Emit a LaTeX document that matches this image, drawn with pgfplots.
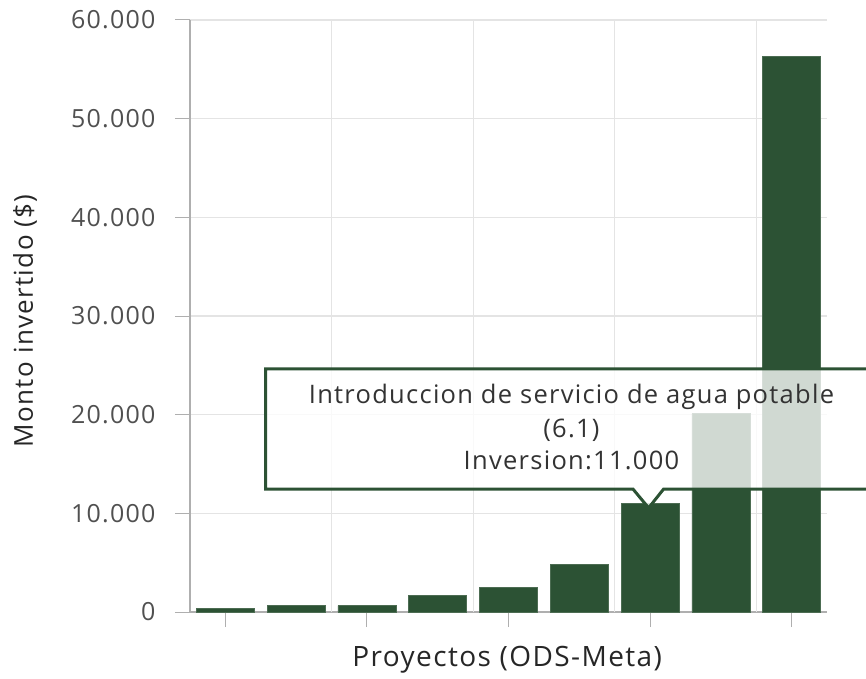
\documentclass[border=0pt]{standalone}
\usepackage{pgfplots}
\pgfplotsset{compat=1.18}
\usepackage{fontspec}
\setmainfont{Open Sans}[LetterSpace=5]

\definecolor{barg}{RGB}{44,82,52}
\definecolor{gridc}{RGB}{228,228,228}
\definecolor{axisc}{RGB}{175,175,175}
\definecolor{tickc}{RGB}{80,80,80}

\begin{document}
\begin{tikzpicture}
\useasboundingbox (-190pt,-66pt) rectangle (676pt,612pt);
\begin{axis}[
    at={(0,0)}, anchor=south west,
    scale only axis,
    width=637pt, height=592pt,
    xmin=-0.5, xmax=8.5,
    ymin=0, ymax=60000,
    axis lines*=left,
    axis line style={-, draw=axisc, line width=1.2pt},
    tick align=outside,
    major tick length=15pt,
    tick style={draw=axisc, line width=1pt},
    xtick={0,2,4,6,8},
    xticklabels={},
    extra x ticks={1.5,3.5,5.5,7.5},
    extra x tick labels={},
    extra x tick style={grid=major, major tick length=0pt},
    ytick={0,10000,...,60000},
    ymajorgrids,
    major grid style={draw=gridc, line width=1.2pt},
    scaled y ticks=false,
    /pgf/number format/.cd, 1000 sep={.}, assume math mode=true,
    /pgfplots/.cd,
    yticklabel style={font=\fontsize{25}{30}\selectfont, text=tickc, xshift=-16pt},
    ylabel={Monto invertido (\$)},
    ylabel style={at={(axis description cs:-0.259,0.492)}, anchor=center,
                  rotate=0, font=\fontsize{26}{30}\selectfont, text=black!85},
    xlabel={Proyectos (ODS-Meta)},
    xlabel style={at={(axis description cs:0.498,-0.081)}, anchor=center,
                  font=\fontsize{28}{32}\selectfont, text=black!85},
    clip=false,
  ]
  \addplot[ybar, bar width=58pt, fill=barg, draw=barg!85!white, line width=0.6pt]
    coordinates {
      (0,400) (1,680) (2,650) (3,1690) (4,2460)
      (5,4800) (6,11000) (7,20100) (8,56300)
    };

  % tooltip
  \draw[draw=barg, line width=3pt, fill=white, fill opacity=0.78, line join=miter]
    (axis cs:0.567,24650) -- (axis cs:9.6,24650) -- (axis cs:9.6,12450)
    -- (axis cs:6.19,12450) -- (axis cs:5.98,10550) -- (axis cs:5.76,12450)
    -- (axis cs:0.567,12450) -- cycle;
  \node[text=black!80, font=\fontsize{25.5}{28}\selectfont] at (axis cs:4.89,21790)
    {Introduccion de servicio de agua potable};
  \node[text=black!80, font=\fontsize{25.5}{28}\selectfont] at (axis cs:4.89,18450) {(6.1)};
  \node[text=black!80, font=\fontsize{25.5}{28}\selectfont] at (axis cs:4.89,15400) {Inversion:11.000};
\end{axis}
\end{tikzpicture}
\end{document}
